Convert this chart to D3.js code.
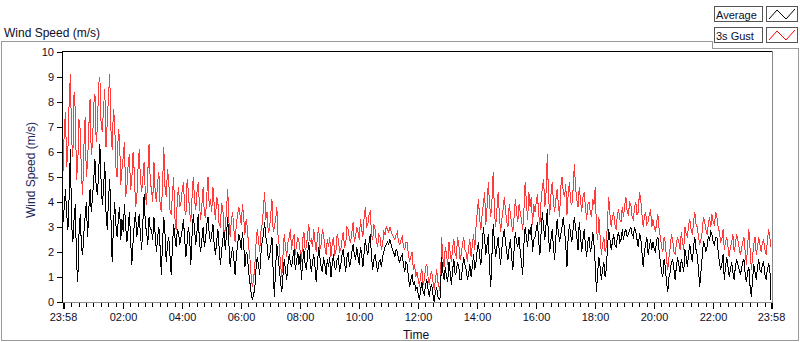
<!DOCTYPE html>
<html><head><meta charset="utf-8">
<script src="https://cdn.jsdelivr.net/npm/d3@7"></script>
<style>
body{margin:0;background:#fff}
svg{display:block}
text{font-family:"Liberation Sans",Arial,sans-serif}
</style>
</head><body>
<svg id="chart" width="800" height="342"></svg>
<script>
// ---- data (2.5-minute samples from 23:58 to 23:58 next day) ----
const spanMinutes = 1440;
const gust = [
5.2,6.8,7.6,5.4,6.1,8.0,9.1,6.5,5.8,8.4,7.7,4.9,5.5,7.3,6.9,5.1,4.3,6.2,7.4,5.0,5.6,7.0,8.1,5.9,
6.3,7.9,8.3,6.4,7.0,8.7,9.0,7.1,6.8,7.8,8.5,6.2,7.2,8.2,9.1,6.9,6.1,7.7,7.3,5.4,5.0,6.9,6.6,4.7,
5.3,5.8,6.4,4.2,4.6,5.5,5.9,4.5,4.9,6.0,5.2,3.8,4.1,5.3,6.1,4.9,4.4,5.0,5.6,4.3,3.9,5.2,6.3,4.8,
4.5,4.0,5.6,4.4,4.0,4.8,5.2,3.9,3.6,4.7,6.2,4.6,4.2,5.3,4.9,3.7,3.5,4.3,5.0,3.4,2.9,4.1,4.6,3.8,
4.0,4.5,4.8,3.7,3.5,4.9,4.4,3.6,3.2,4.2,5.0,4.1,3.7,4.4,4.8,3.9,3.3,3.9,4.6,3.5,3.4,4.3,5.0,3.8,
4.1,3.6,4.6,3.9,3.3,4.2,4.0,3.1,3.0,3.9,3.8,2.7,2.9,3.7,4.5,3.2,2.6,3.3,3.6,2.9,2.4,3.1,3.5,3.8,
3.5,3.1,3.9,3.4,2.7,3.3,3.0,2.2,1.8,1.1,0.6,0.9,1.4,2.3,2.9,2.5,2.0,2.8,3.1,3.7,4.4,3.3,3.6,2.8,
2.9,3.5,4.1,2.8,3.0,3.3,3.8,2.6,2.2,1.5,1.0,1.9,2.7,2.2,1.8,2.4,2.6,2.9,2.1,2.5,2.7,1.9,2.3,2.6,
2.4,2.0,1.6,2.5,2.8,2.1,2.2,2.7,3.1,2.4,2.5,2.2,2.9,2.4,2.0,2.6,3.0,2.1,2.3,2.9,2.7,2.2,1.9,2.5,
2.2,2.6,1.8,2.3,2.6,1.9,2.0,2.7,2.5,2.0,2.1,2.5,2.8,2.2,2.3,3.0,2.9,2.5,2.4,2.8,3.2,2.4,2.6,3.0,
2.8,2.5,3.3,2.9,2.6,3.4,3.8,3.0,3.1,3.5,3.6,2.7,2.5,3.1,2.9,2.4,2.2,2.7,2.6,2.1,2.3,2.8,2.7,3.0,
2.9,2.8,3.0,2.8,2.7,2.6,2.5,2.7,2.8,2.4,2.3,2.5,2.6,2.2,2.1,2.4,2.4,1.9,1.6,1.8,2.0,1.3,1.5,1.0,
1.2,0.9,0.6,1.1,1.3,0.7,0.9,1.4,1.5,1.0,0.7,1.1,1.2,0.8,0.5,0.9,1.3,0.8,0.6,0.4,2.6,1.8,1.4,2.2,
1.9,1.5,2.4,2.0,1.6,2.2,2.5,1.9,1.8,2.6,2.3,1.7,1.9,2.3,2.6,2.1,2.0,1.6,2.2,2.5,1.8,2.3,2.7,2.1,
3.0,3.6,4.1,3.3,2.9,3.5,3.9,4.4,3.1,3.8,4.8,3.9,3.4,4.1,5.2,3.6,3.0,3.7,4.4,3.5,2.8,3.3,3.7,4.2,
3.7,3.2,3.0,3.9,3.5,3.1,2.8,3.4,4.1,3.6,3.2,3.9,3.6,3.3,2.9,3.7,4.8,4.0,3.3,4.4,3.8,4.2,3.1,3.9,
3.6,4.0,4.3,3.5,3.1,4.1,4.6,4.9,3.8,4.4,5.9,4.2,3.5,4.3,4.8,4.0,3.6,4.1,4.5,3.9,3.4,4.6,5.0,4.4,
4.2,4.7,3.5,4.3,4.8,4.0,3.9,4.5,5.5,4.6,4.1,3.8,4.6,4.1,3.6,4.2,4.4,3.8,3.3,3.9,4.0,3.6,3.4,4.1,
3.9,4.6,2.9,2.5,3.4,2.6,1.9,2.3,2.6,2.0,2.2,3.3,4.2,3.5,3.0,3.4,3.6,3.1,2.9,3.5,3.7,3.3,3.2,3.8,
3.4,3.9,4.2,3.6,3.5,4.0,3.9,3.4,3.3,3.8,4.0,3.5,3.6,4.4,4.1,3.5,3.0,3.4,3.6,3.1,3.2,3.5,3.7,3.0,
3.3,3.0,2.8,3.2,3.5,2.9,2.6,2.2,2.0,2.6,2.4,1.7,1.3,1.8,2.2,2.7,2.5,2.0,1.9,2.3,2.6,2.4,2.1,2.8,
2.4,2.1,3.0,2.7,2.6,3.1,3.3,2.9,2.7,3.2,3.6,3.1,3.0,2.6,2.3,2.5,2.8,3.4,3.2,2.9,2.7,3.1,3.4,3.0,
3.5,3.2,3.1,3.6,3.4,3.0,2.8,2.4,2.5,2.9,2.1,2.4,2.6,2.2,1.8,2.2,2.4,2.7,2.0,2.3,2.7,2.5,2.2,1.9,
2.1,2.4,2.6,2.0,1.5,2.3,2.9,2.1,1.3,1.8,2.3,2.6,1.9,2.2,2.6,2.3,2.0,2.4,2.5,2.1,1.9,2.4,2.9,2.6,2.2
];
const average = [
3.2,3.8,4.5,3.5,2.9,4.2,6.1,3.1,2.4,3.3,3.9,1.6,0.8,2.7,3.5,2.2,1.9,2.8,3.4,4.0,2.6,3.7,4.5,3.6,
4.2,4.9,5.7,4.6,4.3,5.2,6.3,4.8,3.9,4.5,5.6,3.6,2.9,4.1,4.9,3.4,1.6,3.0,4.0,3.1,2.6,3.3,3.8,2.5,
3.3,2.8,3.9,3.0,2.4,2.9,3.6,2.5,1.5,2.4,3.1,3.6,2.6,3.0,3.5,2.7,2.1,3.2,4.3,3.1,2.8,2.3,3.4,2.9,
2.9,2.5,3.4,2.7,2.0,2.6,3.0,2.2,1.1,2.4,3.4,2.7,1.6,2.3,2.6,1.9,1.1,2.2,3.1,2.6,2.2,2.9,2.8,2.3,
2.6,2.9,3.3,2.5,1.8,2.4,3.0,2.6,1.5,2.7,3.5,2.9,2.3,2.8,3.5,2.4,2.0,2.5,3.0,2.2,2.5,3.1,3.4,2.7,
2.4,2.7,3.1,2.3,1.9,2.4,2.9,2.2,1.5,2.0,2.5,2.8,2.1,2.7,3.4,2.3,1.4,1.9,2.2,1.7,1.1,1.8,2.3,2.7,
2.5,2.1,2.8,2.3,1.4,2.0,1.9,1.2,0.8,0.4,0.1,0.3,0.5,1.3,1.8,1.5,1.1,1.9,2.4,2.7,3.2,2.6,2.3,1.7,
1.8,2.2,2.6,1.2,0.2,1.4,2.3,1.8,1.3,0.8,0.4,1.1,1.7,1.3,0.9,1.5,1.9,1.6,1.4,1.8,2.1,1.3,1.6,2.0,
1.5,1.9,0.9,1.6,2.1,1.5,1.3,1.9,2.4,1.7,1.2,1.6,1.9,1.4,0.8,1.5,2.2,1.8,1.4,1.2,1.8,1.5,1.1,1.7,
1.4,1.8,1.0,1.5,1.9,1.4,1.3,1.7,1.8,1.2,1.5,1.9,2.1,1.6,1.2,1.8,2.0,1.4,1.6,2.0,2.3,1.9,1.7,2.2,
1.8,1.5,2.2,1.9,1.4,2.0,2.5,2.1,1.9,2.4,2.7,1.8,1.3,1.7,1.9,1.5,1.2,1.6,1.7,1.4,1.8,2.0,2.2,2.3,
2.4,2.3,2.5,2.3,2.1,2.0,1.8,2.1,2.0,1.7,1.6,1.8,1.9,1.5,1.2,1.6,1.5,1.0,0.6,0.9,1.1,0.7,0.8,0.5,
0.6,0.3,0.1,0.5,0.8,0.4,0.3,0.7,0.9,0.5,0.2,0.6,0.7,0.3,0.0,0.4,0.6,0.2,0.1,0.2,1.8,1.2,0.9,1.4,
1.0,0.8,1.6,1.2,0.7,1.3,1.7,1.1,1.2,1.6,1.4,0.9,0.9,1.4,1.8,1.5,1.3,0.9,1.1,1.5,1.0,1.4,1.9,1.3,
1.6,2.1,2.4,1.8,1.5,2.2,3.0,2.5,1.9,2.3,2.7,1.4,0.6,1.9,3.1,2.4,1.8,2.2,2.6,2.0,1.5,2.1,2.6,2.9,
2.4,2.0,1.7,2.2,2.5,1.8,1.3,2.1,2.8,2.4,2.2,2.6,2.0,1.6,1.1,2.3,3.0,2.6,2.2,2.9,2.7,3.1,2.0,2.5,
2.6,2.9,3.2,2.4,1.9,2.8,3.6,3.0,2.5,3.1,3.7,2.6,2.0,2.5,2.9,2.2,1.7,2.6,3.3,2.8,2.4,2.7,3.0,3.4,
2.9,2.3,1.4,2.6,3.1,2.7,2.4,2.9,3.4,3.0,2.6,2.1,3.2,2.7,2.0,2.5,2.9,2.3,1.8,2.4,2.6,2.0,2.2,2.8,
2.3,1.5,0.4,1.2,1.8,1.4,0.9,1.3,1.6,1.0,1.3,2.2,2.9,2.5,2.1,2.4,2.7,2.3,2.2,2.6,2.8,2.4,2.5,2.9,
2.5,2.8,2.9,2.6,2.7,2.9,3.0,2.7,2.6,3.0,2.8,2.5,2.2,2.7,2.6,2.0,1.4,2.0,2.3,2.6,1.9,2.2,2.5,2.1,
2.4,2.1,2.0,2.5,2.6,2.0,1.6,1.2,1.0,1.7,1.4,0.8,0.4,1.0,1.2,1.6,1.7,1.3,0.9,1.4,1.8,1.5,1.2,1.7,
1.5,1.2,2.1,1.8,1.4,2.0,2.3,1.9,1.6,2.2,2.6,2.1,1.9,1.3,0.6,1.2,1.8,2.4,2.3,2.0,2.2,2.6,2.5,2.8,
2.7,2.4,2.3,2.6,2.6,2.0,1.6,1.3,1.5,1.9,0.9,1.4,1.8,1.4,1.0,1.3,1.6,1.2,0.9,1.4,1.7,1.5,1.3,1.1,
1.3,1.6,1.7,1.1,0.8,1.2,1.4,0.6,0.2,0.9,1.5,1.2,0.9,1.4,1.7,1.3,1.2,1.5,1.6,1.1,0.9,1.3,1.5,1.4,0.1
];
const tickMinutes = [0,122,242,362,482,602,722,842,962,1082,1202,1322,1440];
const tickLabels = ["23:58","02:00","04:00","06:00","08:00","10:00","12:00","14:00","16:00","18:00","20:00","22:00","23:58"];
const yTickValues = [0,1,2,3,4,5,6,7,8,9,10];
const seriesNames = ["Average","3s Gust"];

// ---- drawing ----
const svg = d3.select("#chart");
const x = d3.scaleLinear().domain([0,spanMinutes]).range([63,771]);
const y = d3.scaleLinear().domain([0,10]).range([302,52]);
const textColor = "#0d0d2a";
const frameGray = "#9a9a9a";

// outer panel frame
svg.append("path")
  .attr("d","M1.5,340.5V41.5H712.5V48.5H798.5V340.5Z")
  .attr("fill","none").attr("stroke",frameGray).attr("shape-rendering","crispEdges");

// header title
svg.append("text").attr("x",4).attr("y",37).attr("font-size",12).attr("fill",textColor)
  .text("Wind Speed (m/s)");

// plot area
svg.append("rect").attr("x",62).attr("y",51).attr("width",710).attr("height",251).attr("fill","#fff");
svg.append("defs").append("clipPath").attr("id","clip")
  .append("rect").attr("x",63).attr("y",52).attr("width",709).attr("height",251);

const tOf = (i,n)=> i*spanMinutes/(n-1);
const line = d3.line().x((d,i,arr)=>x(tOf(i,arr.length))).y(d=>y(d));
const g = svg.append("g").attr("clip-path","url(#clip)");
g.append("path").datum(gust).attr("d",line).attr("fill","none")
  .attr("stroke","#ff3c3c").attr("stroke-width",1).attr("shape-rendering","crispEdges");
g.append("path").datum(average).attr("d",line).attr("fill","none")
  .attr("stroke","#000").attr("stroke-width",1).attr("shape-rendering","crispEdges");

// plot borders
const border = svg.append("g").attr("shape-rendering","crispEdges");
border.append("line").attr("x1",62).attr("x2",772).attr("y1",51.5).attr("y2",51.5).attr("stroke","#000");
border.append("line").attr("x1",772.5).attr("x2",772.5).attr("y1",51).attr("y2",303).attr("stroke","#8a8a8a");
border.append("line").attr("x1",62).attr("x2",773).attr("y1",302.5).attr("y2",302.5).attr("stroke","#8a8a8a");
border.append("line").attr("x1",62.5).attr("x2",62.5).attr("y1",51).attr("y2",303).attr("stroke","#000");

// y axis
const yAxis = d3.axisLeft(y).tickValues(yTickValues).tickSize(5).tickPadding(3).tickFormat(d3.format("d"));
const ya = svg.append("g").attr("transform","translate(62,0)").call(yAxis);
ya.select(".domain").remove();
ya.selectAll("line").attr("stroke","#000").attr("shape-rendering","crispEdges");
ya.selectAll("text").attr("font-size",11).attr("fill",textColor).attr("font-family","Liberation Sans, Arial, sans-serif");

// x axis minor ticks
const majorSet = new Set(tickMinutes);
const minor = d3.range(17,spanMinutes,15).filter(m=>!majorSet.has(m));
svg.append("g").attr("shape-rendering","crispEdges").selectAll("line").data(minor).join("line")
  .attr("x1",d=>Math.round(x(d))+0.5).attr("x2",d=>Math.round(x(d))+0.5)
  .attr("y1",303).attr("y2",307).attr("stroke","#000");

// x axis major ticks + labels
const xAxis = d3.axisBottom(x).tickValues(tickMinutes).tickSize(6).tickPadding(4)
  .tickFormat((d,i)=>tickLabels[i]);
const xa = svg.append("g").attr("transform","translate(0,303)").call(xAxis);
xa.select(".domain").remove();
xa.selectAll("line").attr("stroke","#000").attr("shape-rendering","crispEdges")
  .attr("stroke-width",(d,i)=> (i===0||i===tickMinutes.length-1)?2:1);
xa.selectAll("text").attr("font-size",11).attr("fill",textColor).attr("font-family","Liberation Sans, Arial, sans-serif");

// axis titles
svg.append("text").attr("x",416).attr("y",339).attr("text-anchor","middle")
  .attr("font-size",12).attr("fill",textColor).text("Time");
svg.append("text").attr("transform","translate(35,170) rotate(-90)").attr("text-anchor","middle")
  .attr("font-size",12).attr("fill","#1c2a5a").text("Wind Speed (m/s)");

// legend
const legendColors = ["#000","#ff0000"];
const leg = svg.append("g");
seriesNames.forEach((name,i)=>{
  const top = 6 + i*21;
  leg.append("rect").attr("x",714.5).attr("y",top+0.5).attr("width",48).attr("height",15)
    .attr("fill","#fff").attr("stroke","#555").attr("shape-rendering","crispEdges");
  leg.append("text").attr("x",716).attr("y",top+12.5).attr("font-size",11).attr("fill",textColor).text(name);
  leg.append("rect").attr("x",766.5).attr("y",top+0.5).attr("width",31).attr("height",15)
    .attr("fill","#fff").attr("stroke","#555").attr("shape-rendering","crispEdges");
  leg.append("path").attr("d",`M769,${top+13}L777,${top+4}L786,${top+13}L795,${top+3}`)
    .attr("fill","none").attr("stroke",legendColors[i]).attr("stroke-width",1);
});
</script>
</body></html>
